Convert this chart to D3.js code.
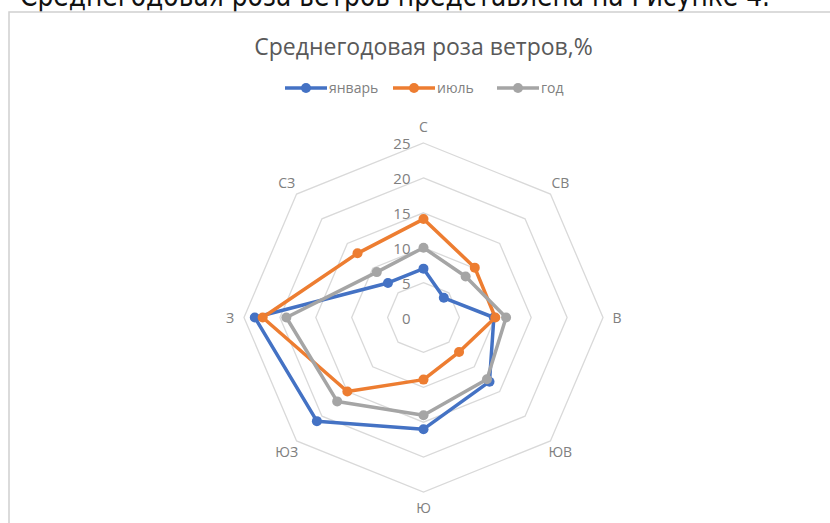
<!DOCTYPE html>
<html>
<head>
  <meta charset='utf-8'>
  <script src="https://d3js.org/d3.v7.min.js"></script>
  <style>
    body { margin: 0; background: #fff; }
    svg { display: block; }
  </style>
</head>
<body>
  <script type='text/javascript'>
    // Chart data
    var directions = ['С', 'СВ', 'В', 'ЮВ', 'Ю', 'ЮЗ', 'З', 'СЗ'];
    var january = [7, 4, 9.8, 13, 16, 21, 23.5, 7];
    var july = [14.1, 10.1, 10, 7, 8.9, 15, 22.4, 13];
    var year = [10, 8.3, 11.5, 12.5, 14, 17, 19.1, 9.2];
    var ticks = [0, 5, 10, 15, 20, 25];
    var seriesNames = ['январь', 'июль', 'год'];
    var seriesColors = ['#4472C4', '#ED7D31', '#A5A5A5'];

    var width = 830, height = 523;
    var cx = 423.5, cy = 317.5;

    var svg = d3.select('body')
      .append('svg')
      .attr('width', width)
      .attr('height', height);

    // Sentence above the chart (cut off at the top, as in the source page)
    svg.append('text')
      .attr('x', 20)
      .attr('y', 6)
      .attr('textLength', 750)
      .attr('lengthAdjust', 'spacingAndGlyphs')
      .style('font-family', 'DejaVu Sans')
      .style('font-size', '30px')
      .style('fill', '#111')
      .text('Среднегодовая роза ветров представлена на Рисунке 4.');

    // Chart frame
    svg.append('rect')
      .attr('x', 9)
      .attr('y', 12)
      .attr('width', 900)
      .attr('height', 700)
      .attr('fill', 'none')
      .attr('stroke', '#d0d0d0')
      .attr('stroke-width', 1.5);

    // Radial scales (picture is slightly wider than tall)
    var rX = d3.scaleLinear().domain([0, 25]).range([0, 179.5]);
    var rY = d3.scaleLinear().domain([0, 25]).range([0, 174.5]);
    var angle = d3.scalePoint().domain(directions).range([0, 2 * Math.PI * 7 / 8]);

    function px(dir, v) { return cx + rX(v) * Math.sin(angle(dir)); }
    function py(dir, v) { return cy - rY(v) * Math.cos(angle(dir)); }

    var g = svg.append('g');

    // Grid octagons
    g.selectAll('.ring')
      .data(ticks.slice(1))
      .enter()
      .append('path')
      .attr('class', 'ring')
      .attr('d', function(t) {
        return d3.line().curve(d3.curveLinearClosed)(directions.map(function(d) {
          return [px(d, t), py(d, t)];
        }));
      })
      .attr('fill', 'none')
      .attr('stroke', '#d9d9d9')
      .attr('stroke-width', 1.3);

    // Tick labels
    g.selectAll('.tick')
      .data(ticks)
      .enter()
      .append('text')
      .attr('x', cx - 13)
      .attr('y', function(t) { return cy - rY(t) + 6; })
      .attr('text-anchor', 'end')
      .style('font-family', 'Open Sans, sans-serif')
      .style('font-size', '15px')
      .style('fill', '#808080')
      .text(function(t) { return t; });

    // Category labels
    g.selectAll('.cat')
      .data(directions)
      .enter()
      .append('text')
      .attr('x', function(d) { return cx + (rX(25) + 14) * Math.sin(angle(d)); })
      .attr('y', function(d) { return cy - (rY(25) + 16) * Math.cos(angle(d)) + 5; })
      .attr('text-anchor', 'middle')
      .style('font-family', 'Open Sans, sans-serif')
      .style('font-size', '14px')
      .style('fill', '#808080')
      .text(function(d) { return d; });

    // Series
    var allSeries = [january, july, year];
    allSeries.forEach(function(vals, i) {
      var pts = directions.map(function(d, j) { return [px(d, vals[j]), py(d, vals[j])]; });
      g.append('path')
        .attr('d', d3.line().curve(d3.curveLinearClosed)(pts))
        .attr('fill', 'none')
        .attr('stroke', seriesColors[i])
        .attr('stroke-width', 3.5)
        .attr('stroke-linejoin', 'round');
      g.selectAll('.m' + i)
        .data(pts)
        .enter()
        .append('circle')
        .attr('cx', function(p) { return p[0]; })
        .attr('cy', function(p) { return p[1]; })
        .attr('r', 5)
        .attr('fill', seriesColors[i]);
    });

    // Title
    svg.append('text')
      .attr('x', cx)
      .attr('y', 55)
      .attr('text-anchor', 'middle')
      .style('font-family', 'Open Sans, sans-serif')
      .style('font-size', '23px')
      .style('fill', '#595959')
      .text('Среднегодовая роза ветров,%');

    // Legend
    var legendX = [285, 393, 497];
    var legend = svg.selectAll('.legend')
      .data(seriesNames)
      .enter()
      .append('g')
      .attr('transform', function(d, i) { return 'translate(' + legendX[i] + ',88)'; });
    legend.append('line')
      .attr('x1', 0).attr('x2', 42)
      .attr('stroke', function(d, i) { return seriesColors[i]; })
      .attr('stroke-width', 3.5);
    legend.append('circle')
      .attr('cx', 21).attr('r', 5)
      .attr('fill', function(d, i) { return seriesColors[i]; });
    legend.append('text')
      .attr('x', 44)
      .attr('y', 5)
      .style('font-family', 'Open Sans, sans-serif')
      .style('font-size', '14px')
      .style('fill', '#808080')
      .text(function(d) { return d; });
  </script>
</body>
</html>
